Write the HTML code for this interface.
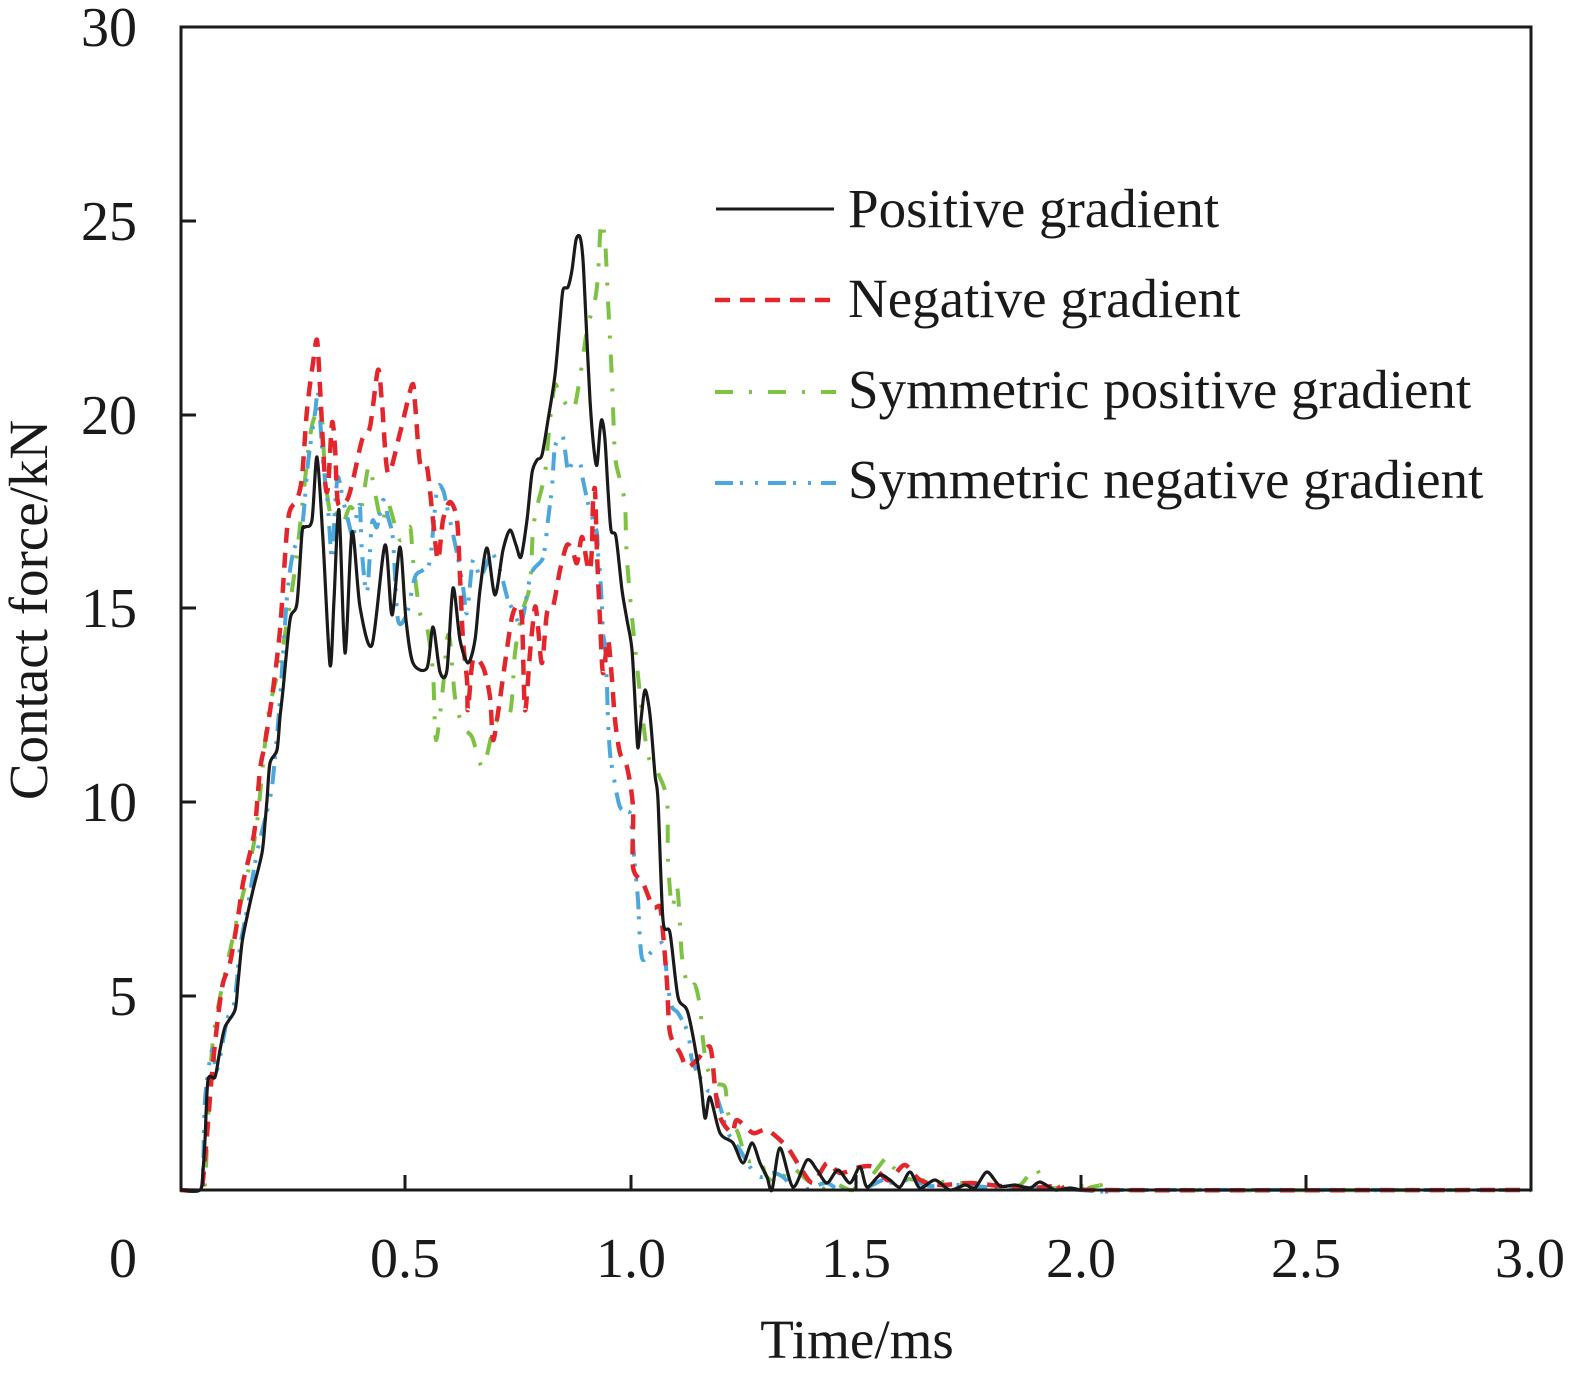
<!DOCTYPE html>
<html>
<head>
<meta charset="utf-8">
<style>
html,body{margin:0;padding:0;background:#fff;}
svg{display:block;}
text{font-family:"Liberation Serif","DejaVu Serif",serif;fill:#1a1a1a;}
</style>
</head>
<body>
<svg id="chart" width="1575" height="1382" viewBox="0 0 1575 1382" xmlns="http://www.w3.org/2000/svg">
<rect x="0" y="0" width="1575" height="1382" fill="#fff"/>

<!-- series -->
<g id="series" fill="none" stroke-linejoin="round" stroke-linecap="butt">
<polyline stroke="#7dc243" stroke-width="4" stroke-dasharray="18 16 3 16" points="180,1190 200,1190 205,1183 213,1040 233,937 247,877 257,823 268,717 280,663 290,603 297,553 310,437 317,413 322,420 323,440 327,493 332,520 337,513 343,523 350,507 360,513 367,473 370,467 375,493 382,523 388,503 400,540 410,527 413,560 420,613 427,627 433,673 436,740 443,687 447,640 450,640 455,697 463,727 472,737 483,767 495,723 510,713 515,653 522,613 530,585 533,530 538,503 545,473 550,420 555,385 560,395 573,410 580,377 587,330 595,300 598,275 601,223 605,240 608,300 612,380 615,455 620,480 625,505 627,560 635,647 647,750 658,773 667,800 668,860 672,907 677,887 680,923 682,957 688,987 695,985 700,1007 703,1040 707,1067 715,1083 725,1087 728,1113 738,1133 747,1160 760,1160 767,1177 780,1183 790,1167 807,1180 820,1190 833,1183 853,1190 863,1170 870,1177 887,1157 893,1167 905,1178 920,1180 960,1183 1000,1185 1020,1185 1035,1168 1045,1186 1060,1188 1100,1185 1120,1190 1531,1190"/>
<polyline stroke="#4ba7dc" stroke-width="4" stroke-dasharray="18 7 3 12 3 10" points="180,1190 200,1190 203,1173 205,1100 212,1050 217,1070 227,1020 233,1010 237,980 240,947 247,910 257,853 268,807 272,787 275,757 280,700 287,597 293,553 302,527 308,463 315,413 318,393 322,447 325,480 328,507 332,560 335,507 338,477 343,500 348,520 353,537 357,513 360,507 362,553 367,593 372,523 377,527 383,500 388,517 393,540 398,620 407,613 415,577 423,570 430,560 437,490 443,490 447,507 457,553 463,587 467,613 473,560 480,577 487,563 492,553 500,570 508,600 515,613 520,627 525,607 528,587 533,570 542,560 545,547 548,520 552,487 555,447 562,435 565,450 568,470 573,462 580,463 583,480 588,503 593,520 597,533 598,553 600,573 602,607 603,633 605,647 607,687 608,720 610,753 613,773 620,807 630,813 632,833 635,867 638,900 640,940 643,960 653,950 662,943 665,957 668,987 672,1007 678,1013 688,1033 692,1060 700,1077 707,1090 715,1093 722,1113 728,1133 740,1150 750,1167 760,1177 773,1173 783,1177 793,1187 803,1190 813,1187 827,1183 840,1190 853,1183 867,1187 883,1180 893,1183 910,1180 930,1186 960,1185 1000,1188 1050,1188 1110,1192 1130,1190 1531,1190"/>
<polyline stroke="#e3262b" stroke-width="4.5" stroke-dasharray="15 10" points="180,1190 200,1190 203,1180 208,1123 212,1073 218,1017 223,983 230,963 238,917 243,883 250,853 255,827 260,770 265,743 272,697 280,630 288,520 297,500 302,477 307,410 313,363 317,340 320,387 325,480 328,487 332,423 335,447 338,503 347,500 353,480 362,440 370,427 378,370 382,403 388,473 400,433 412,385 415,403 420,463 427,467 433,520 438,560 443,520 450,502 457,520 460,577 463,640 467,680 468,710 473,660 483,667 490,697 493,740 498,713 505,663 512,617 518,605 522,620 525,710 530,653 535,607 538,627 542,663 547,613 553,607 560,570 567,545 573,552 577,563 582,537 587,563 590,570 592,547 593,503 595,490 597,553 600,620 603,673 608,640 612,680 615,720 620,753 627,767 633,807 633,867 643,883 653,907 660,907 663,933 667,983 670,1033 680,1053 687,1067 697,1060 710,1047 715,1087 720,1117 732,1133 737,1120 753,1133 767,1130 787,1147 800,1167 813,1183 827,1163 840,1173 860,1167 873,1167 887,1180 893,1177 905,1165 920,1180 940,1185 970,1183 1000,1186 1030,1188 1060,1186 1100,1190 1531,1190"/>
<polyline stroke="#1a1a1a" stroke-width="3.2" points="180,1190 200,1190 203,1170 205,1140 208,1080 215,1077 220,1050 225,1027 235,1010 238,983 242,943 247,917 253,890 262,853 265,823 267,800 270,763 277,750 280,717 283,690 290,620 297,603 302,533 305,527 312,520 317,457 323,540 330,665 334,600 339,510 345,653 352,532 360,607 372,645 385,545 392,615 400,547 406,620 413,663 427,668 433,627 440,672 447,670 453,588 460,640 468,663 475,640 480,590 487,548 495,595 503,550 510,530 516,545 521,557 527,520 532,473 537,460 542,455 548,420 555,375 560,320 563,290 568,287 572,270 576,240 580,237 583,260 586,320 590,400 594,450 597,465 600,430 602,420 605,440 608,490 611,530 616,537 622,590 627,620 632,650 636,720 638,748 641,720 645,690 650,715 655,775 658,800 663,920 670,933 678,997 688,1013 700,1077 705,1118 710,1097 720,1133 733,1143 743,1163 752,1143 760,1163 767,1177 772,1190 780,1148 793,1187 807,1160 817,1170 827,1183 838,1170 850,1183 860,1167 867,1187 880,1175 890,1180 900,1187 910,1172 920,1188 935,1180 950,1190 965,1185 975,1188 987,1172 1000,1186 1015,1185 1030,1188 1040,1182 1055,1190 1070,1188 1080,1190"/>
</g>

<!-- axes frame -->
<rect x="181" y="27" width="1350" height="1163" fill="none" stroke="#1a1a1a" stroke-width="3"/>

<!-- ticks -->
<g stroke="#1a1a1a" stroke-width="3">
<line x1="181" y1="221" x2="196" y2="221"/>
<line x1="181" y1="415" x2="196" y2="415"/>
<line x1="181" y1="608" x2="196" y2="608"/>
<line x1="181" y1="802" x2="196" y2="802"/>
<line x1="181" y1="996" x2="196" y2="996"/>
<line x1="405" y1="1190" x2="405" y2="1175"/>
<line x1="631" y1="1190" x2="631" y2="1175"/>
<line x1="856" y1="1190" x2="856" y2="1175"/>
<line x1="1081" y1="1190" x2="1081" y2="1175"/>
<line x1="1306" y1="1190" x2="1306" y2="1175"/>
</g>

<!-- y tick labels -->
<g font-size="56" text-anchor="end">
<text x="137" y="46">30</text>
<text x="137" y="240">25</text>
<text x="137" y="434">20</text>
<text x="137" y="627">15</text>
<text x="137" y="821">10</text>
<text x="137" y="1015">5</text>
</g>
<!-- x tick labels -->
<g font-size="56" text-anchor="middle">
<text x="123" y="1277">0</text>
<text x="405" y="1277">0.5</text>
<text x="631" y="1277">1.0</text>
<text x="856" y="1277">1.5</text>
<text x="1081" y="1277">2.0</text>
<text x="1306" y="1277">2.5</text>
<text x="1530" y="1277">3.0</text>
</g>

<!-- axis titles -->
<text x="857" y="1358" font-size="55" text-anchor="middle">Time/ms</text>
<text transform="translate(47,610) rotate(-90)" font-size="55" text-anchor="middle">Contact force/kN</text>

<!-- legend -->
<g fill="none">
<line x1="716" y1="209" x2="834" y2="209" stroke="#1a1a1a" stroke-width="3"/>
<line x1="715" y1="300" x2="836" y2="300" stroke="#e3262b" stroke-width="4.5" stroke-dasharray="15 10"/>
<line x1="715" y1="392" x2="836" y2="392" stroke="#7dc243" stroke-width="4" stroke-dasharray="18 16 3 16"/>
<line x1="715" y1="483" x2="836" y2="483" stroke="#4ba7dc" stroke-width="4" stroke-dasharray="18 7 3 12 3 10"/>
</g>
<g font-size="55">
<text x="848" y="227">Positive gradient</text>
<text x="848" y="317">Negative gradient</text>
<text x="848" y="408">Symmetric positive gradient</text>
<text x="848" y="498">Symmetric negative gradient</text>
</g>
</svg>
<script>
(function(){
  try{
    var NS="http://www.w3.org/2000/svg";
    var g=document.getElementById("series");
    var pls=Array.prototype.slice.call(g.getElementsByTagName("polyline"));
    pls.forEach(function(pl){
      var raw=pl.getAttribute("points").trim().split(/\s+/).map(function(s){var a=s.split(",");return [parseFloat(a[0]),parseFloat(a[1])];});
      if(raw.length<3)return;
      var t=0.5/3*2; // tension factor (1/6 * k) ~ standard catmull-rom uses 1/6
      var k=1/6*0.85;
      var d="M"+raw[0][0]+","+raw[0][1];
      for(var i=0;i<raw.length-1;i++){
        var p0=raw[i>0?i-1:0],p1=raw[i],p2=raw[i+1],p3=raw[i+2<raw.length?i+2:i+1];
        var c1x=p1[0]+(p2[0]-p0[0])*k,c1y=p1[1]+(p2[1]-p0[1])*k;
        var c2x=p2[0]-(p3[0]-p1[0])*k,c2y=p2[1]-(p3[1]-p1[1])*k;
        d+=" C"+c1x.toFixed(2)+","+c1y.toFixed(2)+" "+c2x.toFixed(2)+","+c2y.toFixed(2)+" "+p2[0]+","+p2[1];
      }
      var path=document.createElementNS(NS,"path");
      ["stroke","stroke-width","stroke-dasharray"].forEach(function(a){var v=pl.getAttribute(a);if(v)path.setAttribute(a,v);});
      path.setAttribute("d",d);
      g.insertBefore(path,pl);
      g.removeChild(pl);
    });
  }catch(e){}
})();
</script>
</body>
</html>
